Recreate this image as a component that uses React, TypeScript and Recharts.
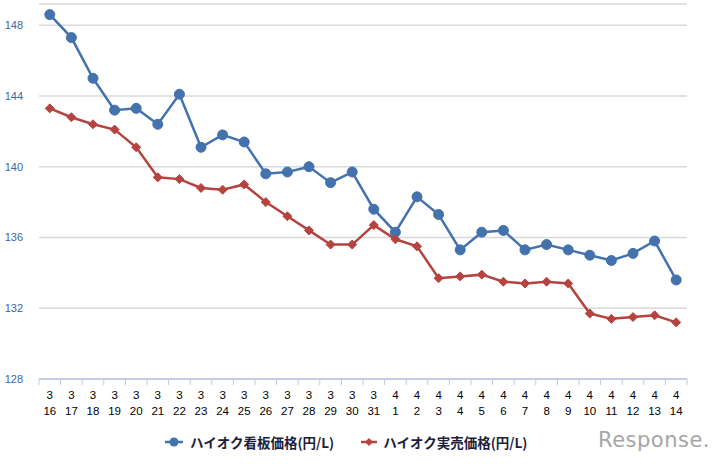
import { CartesianGrid, Line, LineChart, XAxis, YAxis } from "recharts";

const dates = [
  "3/16", "3/17", "3/18", "3/19", "3/20", "3/21", "3/22", "3/23", "3/24", "3/25",
  "3/26", "3/27", "3/28", "3/29", "3/30", "3/31", "4/1", "4/2", "4/3", "4/4",
  "4/5", "4/6", "4/7", "4/8", "4/9", "4/10", "4/11", "4/12", "4/13", "4/14",
];

// 看板価格 (posted price)
const signPrice = [
  148.6, 147.3, 145.0, 143.2, 143.3, 142.4, 144.1, 141.1, 141.8, 141.4,
  139.6, 139.7, 140.0, 139.1, 139.7, 137.6, 136.3, 138.3, 137.3, 135.3,
  136.3, 136.4, 135.3, 135.6, 135.3, 135.0, 134.7, 135.1, 135.8, 133.6,
];

// 実売価格 (actual selling price)
const salePrice = [
  143.3, 142.8, 142.4, 142.1, 141.1, 139.4, 139.3, 138.8, 138.7, 139.0,
  138.0, 137.2, 136.4, 135.6, 135.6, 136.7, 135.9, 135.5, 133.7, 133.8,
  133.9, 133.5, 133.4, 133.5, 133.4, 131.7, 131.4, 131.5, 131.6, 131.2,
];

const yTicks = [128, 132, 136, 140, 144, 148];

const SIGN_LABEL = "ハイオク看板価格(円/L)";
const SALE_LABEL = "ハイオク実売価格(円/L)";

const BLUE = "#4472ad";
const RED = "#b5433f";
const AXIS = "#b9c9dd";

const data = dates.map((d, i) => ({ date: d, sign: signPrice[i], sale: salePrice[i] }));

const PLOT_LEFT = 39;
const PLOT_RIGHT = 687;
const BAND = (PLOT_RIGHT - PLOT_LEFT) / dates.length;

function DateTick(props: any) {
  const { x, y, payload, index } = props;
  const [m, d] = String(payload.value).split("/");
  return (
    <g>
      <line x1={x - BAND / 2} x2={x - BAND / 2} y1={y} y2={y + 6} stroke={AXIS} strokeWidth={1} />
      {index === dates.length - 1 && (
        <line x1={x + BAND / 2} x2={x + BAND / 2} y1={y} y2={y + 6} stroke={AXIS} strokeWidth={1} />
      )}
      <text x={x} y={y + 20} textAnchor="middle" fontSize={11.5} fill="#000" fontFamily="Liberation Sans, Arial">
        {m}
      </text>
      <text x={x} y={y + 36} textAnchor="middle" fontSize={11.5} fill="#000" fontFamily="Liberation Sans, Arial">
        {d}
      </text>
    </g>
  );
}

function PriceTick(props: any) {
  const { y, payload } = props;
  return (
    <text x={23} y={y + 4} textAnchor="end" fontSize={11} fill="#3d66a3" fontFamily="Liberation Sans, Arial">
      {payload.value}
    </text>
  );
}

function Diamond(props: any) {
  const { cx, cy, index } = props;
  if (cx == null || cy == null) return <g key={index} />;
  const r = 4.5;
  return (
    <polygon
      key={index}
      points={`${cx},${cy - r} ${cx + r},${cy} ${cx},${cy + r} ${cx - r},${cy}`}
      fill={RED}
      stroke={RED}
      strokeWidth={1}
    />
  );
}

export default function App() {
  return (
    <div style={{ position: "absolute", left: 0, top: 0, width: 724, height: 464, background: "#fff" }}>
      <LineChart width={724} height={464} data={data} margin={{ top: 4, right: 724 - PLOT_RIGHT, bottom: 45, left: 0 }}>
        <CartesianGrid horizontal vertical={false} stroke="#d9d9d9" strokeWidth={1.5} />
        <XAxis
          dataKey="date"
          scale="band"
          interval={0}
          tickSize={0}
          tickMargin={0}
          tickLine={false}
          height={40}
          stroke={AXIS}
          strokeWidth={1.5}
          tick={<DateTick />}
        />
        <YAxis
          width={PLOT_LEFT}
          domain={[128, 149.2]}
          ticks={yTicks}
          axisLine={false}
          tickLine={false}
          tick={<PriceTick />}
        />
        <Line
          type="linear"
          dataKey="sign"
          stroke={BLUE}
          strokeWidth={2.5}
          dot={{ r: 5, fill: BLUE, stroke: BLUE, strokeWidth: 1 }}
          isAnimationActive={false}
        />
        <Line
          type="linear"
          dataKey="sale"
          stroke={RED}
          strokeWidth={2.5}
          dot={Diamond}
          isAnimationActive={false}
        />
      </LineChart>

      {/* legend */}
      <div
        style={{
          position: "absolute",
          top: 432,
          left: 165,
          display: "flex",
          alignItems: "center",
          fontFamily: "'Noto Sans CJK JP', sans-serif",
          fontSize: 13.5,
          fontWeight: 600,
          color: "#1e1e3c",
          lineHeight: "20px",
        }}
      >
        <svg width={20} height={12} style={{ marginRight: 5 }}>
          <line x1={0} x2={18} y1={6} y2={6} stroke={BLUE} strokeWidth={2.5} />
          <circle cx={9} cy={6} r={4.5} fill={BLUE} />
        </svg>
        <span>{SIGN_LABEL}</span>
        <svg width={18} height={12} style={{ marginLeft: 27, marginRight: 4 }}>
          <line x1={0} x2={16} y1={6} y2={6} stroke={RED} strokeWidth={2.5} />
          <polygon points="8,2 12,6 8,10 4,6" fill={RED} />
        </svg>
        <span>{SALE_LABEL}</span>
      </div>

      {/* watermark */}
      <div
        style={{
          position: "absolute",
          top: 428,
          left: 598,
          fontFamily: "'DejaVu Sans', sans-serif",
          fontSize: 21,
          color: "#a6a6a6",
          letterSpacing: 0.5,
        }}
      >
        Response.
      </div>
    </div>
  );
}
